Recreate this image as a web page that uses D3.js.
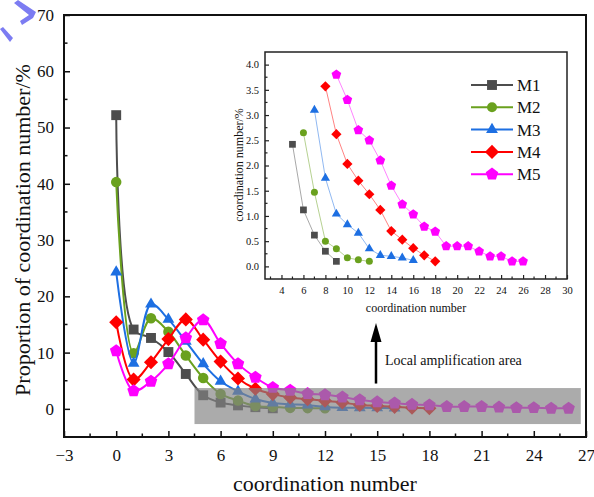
<!DOCTYPE html>
<html><head><meta charset="utf-8">
<script src="https://cdn.jsdelivr.net/npm/d3@7"></script>
<style>body{margin:0;background:#fff}svg{display:block}text{font-family:"Liberation Serif","Times New Roman",serif;fill:#111}</style>
</head><body><div id="chart"></div>
<script>
// ---- data ----
const seriesNames = ["M1", "M2", "M3", "M4", "M5"];
const M1 = [52.2, 14.1, 12.6, 10.1, 6.2, 2.42, 1.12, 0.62, 0.30, 0.10];
const M2 = [40.3, 9.9, 16.1, 13.7, 9.5, 5.5, 2.65, 1.47, 0.50, 0.35, 0.17, 0.13, 0.10];
const M3 = [24.3, 8.1, 18.6, 15.9, 12.0, 8.0, 4.9, 3.10, 1.75, 1.04, 0.83, 0.66, 0.35, 0.22, 0.20, 0.17, 0.12];
const M4 = [15.4, 5.2, 8.3, 12.4, 15.9, 12.3, 8.4, 5.4, 3.57, 2.62, 2.03, 1.70, 1.43, 1.12, 0.70, 0.53, 0.36, 0.22, 0.10];
const M5 = [10.3, 3.2, 4.9, 8.0, 12.6, 15.8, 11.6, 8.0, 5.6, 3.80, 3.30, 2.70, 2.50, 2.10, 1.60, 1.23, 1.03, 0.79, 0.69, 0.40, 0.40, 0.40, 0.30, 0.20, 0.20, 0.10, 0.10];
const insetFrom = [5, 6, 7, 8, 9]; // first coordination number shown in inset
const mainXTicks = [-3, 0, 3, 6, 9, 12, 15, 18, 21, 24, 27];
const mainYTicks = [0, 10, 20, 30, 40, 50, 60, 70];
const insetXTicks = [4, 6, 8, 10, 12, 14, 16, 18, 20, 22, 24, 26, 28, 30];
const insetYTicks = [0.0, 0.5, 1.0, 1.5, 2.0, 2.5, 3.0, 3.5, 4.0];
const zoomArea = {x0: 4.5, x1: 26.7, y0: -2.7, y1: 3.7};

const colors = ["#4d4d4d", "#6aa11e", "#1d6fe2", "#ff0000", "#ff00ff"];
const shapes = ["square", "circle", "triangle", "diamond", "pentagon"];
const allValues = [M1, M2, M3, M4, M5];
const series = seriesNames.map((n, i) => ({
  name: n, color: colors[i], shape: shapes[i],
  pts: allValues[i].map((v, x) => ({x, y: v})),
  inset: allValues[i].map((v, x) => ({x, y: v})).filter(p => p.x >= insetFrom[i])
}));

const W = 594, H = 497;
const svg = d3.select("#chart").append("svg").attr("width", W).attr("height", H);

function shapePath(shape, s) {
  const p = d3.path();
  if (shape === "square") { const h = s * 0.45; p.rect(-h, -h, 2 * h, 2 * h); }
  else if (shape === "circle") { p.arc(0, 0, s * 0.5, 0, 2 * Math.PI); }
  else if (shape === "triangle") { const r = s * 0.62; p.moveTo(0, -r); p.lineTo(r * 0.87, r * 0.5); p.lineTo(-r * 0.87, r * 0.5); p.closePath(); }
  else if (shape === "diamond") { const r = s * 0.64; p.moveTo(0, -r); p.lineTo(r, 0); p.lineTo(0, r); p.lineTo(-r, 0); p.closePath(); }
  else if (shape === "pentagon") { const r = s * 0.6; for (let k = 0; k < 5; k++) { const a = -Math.PI / 2 + k * 2 * Math.PI / 5; const px = r * Math.cos(a), py = r * Math.sin(a); if (k === 0) p.moveTo(px, py); else p.lineTo(px, py); } p.closePath(); }
  return p.toString();
}

// ---- main chart ----
const x = d3.scaleLinear().domain([-3, 27]).range([64, 586]);
const y = d3.scaleLinear().domain([-5, 70]).range([437, 15]);

const line = d3.line().x(d => x(d.x)).y(d => y(d.y)).curve(d3.curveCatmullRom.alpha(0.5));
series.forEach(s => {
  const g = svg.append("g");
  g.append("path").attr("d", line(s.pts)).attr("fill", "none").attr("stroke", s.color).attr("stroke-width", 2);
  g.selectAll("path.m").data(s.pts).enter().append("path").attr("class", "m")
    .attr("transform", d => `translate(${x(d.x)},${y(d.y)})`)
    .attr("d", shapePath(s.shape, s.shape === "circle" ? 10.5 : 11)).attr("fill", s.color);
});

// gray local amplification area
svg.append("rect").attr("x", x(zoomArea.x0)).attr("y", y(zoomArea.y1))
  .attr("width", x(zoomArea.x1) - x(zoomArea.x0)).attr("height", y(zoomArea.y0) - y(zoomArea.y1))
  .attr("fill", "rgb(131,131,131)").attr("fill-opacity", 0.68);

// axes (inward ticks)
const xAxis = d3.axisBottom(x).tickValues(mainXTicks).tickSize(-6).tickPadding(12)
  .tickFormat(d => d < 0 ? "\u2212" + Math.abs(d) : d);
const gx = svg.append("g").attr("transform", `translate(0,${y(-5)})`).call(xAxis);
const yAxis = d3.axisLeft(y).tickValues(mainYTicks).tickSize(-6).tickPadding(10);
const gy = svg.append("g").attr("transform", `translate(${x(-3)},0)`).call(yAxis);
[gx, gy].forEach(g => { g.select(".domain").remove(); g.selectAll("text").style("font-size", "17px").attr("fill", "#111").style("font-family", "Liberation Serif"); g.selectAll("line").attr("stroke", "#111").attr("stroke-width", 1.5); });
// minor ticks
const xMinor = d3.range(-1.5, 27, 3);
svg.append("g").selectAll("line").data(xMinor).enter().append("line")
  .attr("x1", d => x(d)).attr("x2", d => x(d)).attr("y1", y(-5)).attr("y2", y(-5) - 3.5).attr("stroke", "#111").attr("stroke-width", 1.5);
const yMinor = d3.range(5, 70, 10);
svg.append("g").selectAll("line").data(yMinor).enter().append("line")
  .attr("y1", d => y(d)).attr("y2", d => y(d)).attr("x1", x(-3)).attr("x2", x(-3) + 3.5).attr("stroke", "#111").attr("stroke-width", 1.5);
// frame
svg.append("rect").attr("x", x(-3)).attr("y", y(70)).attr("width", x(27) - x(-3)).attr("height", y(-5) - y(70))
  .attr("fill", "none").attr("stroke", "#111").attr("stroke-width", 2);

// titles
svg.append("text").attr("x", (x(-3) + x(27)) / 2).attr("y", 491).attr("text-anchor", "middle").style("font-size", "22px").text("coordination number");
svg.append("text").attr("transform", `translate(30,${(y(70) + y(-5)) / 2 + 4}) rotate(-90)`).attr("text-anchor", "middle").style("font-size", "22px").text("Proportion of coordination number/%");

// arrow and note
svg.append("line").attr("x1", 376).attr("x2", 376).attr("y1", y(4.5)).attr("y2", 338).attr("stroke", "#000").attr("stroke-width", 2.5);
svg.append("path").attr("d", "M376,323 L381.5,342 L370.5,342 Z").attr("fill", "#000");
svg.append("text").attr("x", 385).attr("y", 365).style("font-size", "14px").text("Local amplification area");

// ---- inset ----
const ix = d3.scaleLinear().domain([2.5, 30]).range([265, 567]);
const iy = d3.scaleLinear().domain([-0.25, 4.25]).range([279, 52]);
svg.append("rect").attr("x", 265).attr("y", 52).attr("width", 302).attr("height", 227).attr("fill", "#fff");
const iline = d3.line().x(d => ix(d.x)).y(d => iy(d.y));
const isz = {square: 7.5, circle: 7, triangle: 8.5, diamond: 8, pentagon: 8.5};
series.forEach(s => {
  const g = svg.append("g");
  g.append("path").attr("d", iline(s.inset)).attr("fill", "none").attr("stroke", s.color).attr("stroke-opacity", 0.55).attr("stroke-width", 0.9);
  g.selectAll("path.m").data(s.inset).enter().append("path").attr("class", "m")
    .attr("transform", d => `translate(${ix(d.x)},${iy(d.y)})`)
    .attr("d", shapePath(s.shape, isz[s.shape])).attr("fill", s.color);
});
const ixAxis = d3.axisBottom(ix).tickValues(insetXTicks).tickSize(-4).tickPadding(8);
const gix = svg.append("g").attr("transform", `translate(0,279)`).call(ixAxis);
const iyAxis = d3.axisLeft(iy).tickValues(insetYTicks).tickSize(-4).tickPadding(6).tickFormat(d3.format(".1f"));
const giy = svg.append("g").attr("transform", `translate(265,0)`).call(iyAxis);
[gix, giy].forEach(g => { g.select(".domain").remove(); g.selectAll("text").style("font-size", "10.5px").attr("fill", "#333").style("font-family", "Liberation Serif"); g.selectAll("line").attr("stroke", "#222").attr("stroke-width", 1.2); });
svg.append("g").selectAll("line").data(d3.range(3, 30, 2)).enter().append("line")
  .attr("x1", d => ix(d)).attr("x2", d => ix(d)).attr("y1", 279).attr("y2", 276.5).attr("stroke", "#222").attr("stroke-width", 1.2);
svg.append("g").selectAll("line").data(d3.range(0.25, 4.25, 0.5)).enter().append("line")
  .attr("y1", d => iy(d)).attr("y2", d => iy(d)).attr("x1", 265).attr("x2", 267.5).attr("stroke", "#222").attr("stroke-width", 1.2);
svg.append("rect").attr("x", 265).attr("y", 52).attr("width", 302).attr("height", 227).attr("fill", "none").attr("stroke", "#222").attr("stroke-width", 1.5);
svg.append("text").attr("x", 416).attr("y", 312).attr("text-anchor", "middle").style("font-size", "12px").attr("fill", "#222").text("coordination number");
svg.append("text").attr("transform", `translate(243,165) rotate(-90)`).attr("text-anchor", "middle").style("font-size", "12px").attr("fill", "#222").text("coordination number/%");

// legend
series.forEach((s, i) => {
  const ly = 85 + i * 22.3;
  svg.append("line").attr("x1", 471).attr("x2", 513).attr("y1", ly).attr("y2", ly).attr("stroke", s.color).attr("stroke-width", 2);
  svg.append("path").attr("transform", `translate(492,${ly})`).attr("d", shapePath(s.shape, s.shape === "circle" ? 10 : 11)).attr("fill", s.color);
  svg.append("text").attr("x", 517).attr("y", ly + 6).style("font-size", "17px").text(s.name);
});

// top-left blue mark
svg.append("path").attr("d", "M18,0 L36,12 L33,18 L22,25 L20,21 L29,15 L14,3 Z").attr("fill", "#7c7cf2");
svg.append("path").attr("d", "M0,29 L3,27 L13,38 L10,42 Z").attr("fill", "#7c7cf2");
</script></body></html>
